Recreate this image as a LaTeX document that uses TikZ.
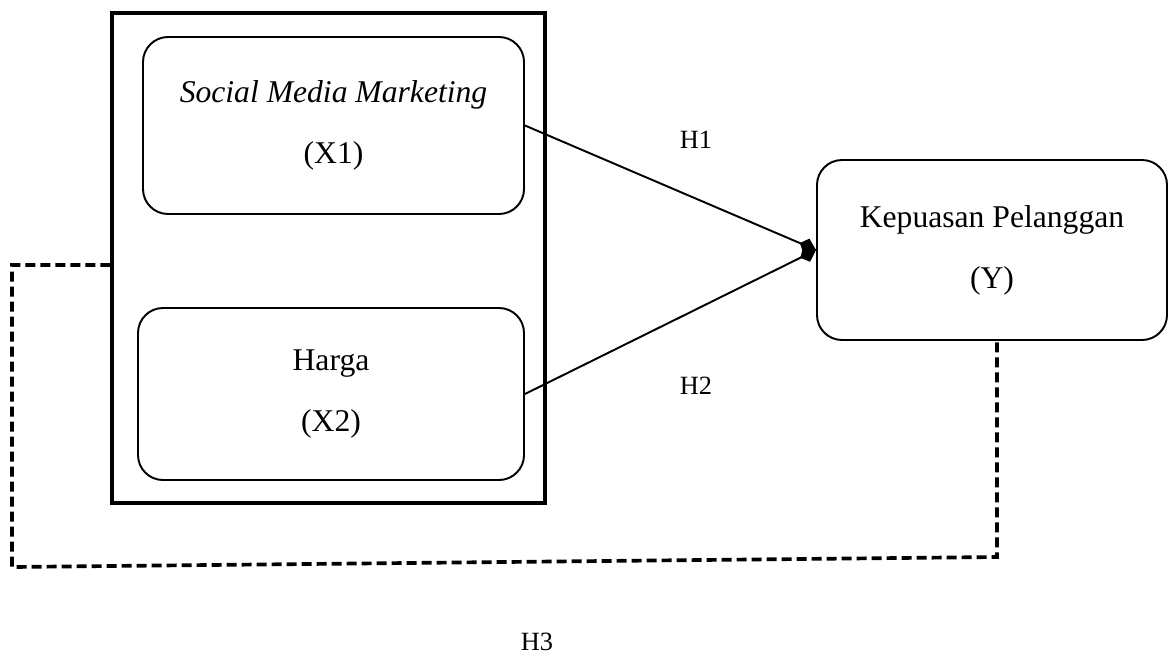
\documentclass[tikz,border=0pt]{standalone}
\usepackage{fontspec}
\setmainfont{Liberation Serif}
\usetikzlibrary{arrows.meta}

\begin{document}
\begin{tikzpicture}[
    varbox/.style={draw, line width=1.1pt, rounded corners=0.5cm, align=center,
      font=\fontsize{18}{21.6}\selectfont},
    framebox/.style={draw, line width=1.9pt, inner sep=0pt},
    path/.style={line width=1.1pt, -{Kite[length=10pt,width=9pt,inset=4pt]}},
    dashline/.style={line width=2.1pt, dash pattern=on 0.2cm off 0.1cm},
    hlabel/.style={font=\fontsize{15}{18}\selectfont}
  ]
  \useasboundingbox (0,0) rectangle (23.42,13.12);
  % outer frame round the two independent variables
  \node[framebox, minimum width=8.66cm, minimum height=9.8cm] (frame) at (6.57,7.96) {};
  \node[varbox, minimum width=7.62cm, minimum height=3.54cm] (x1) at (6.67,10.61)
    {\textit{Social Media Marketing}\\[13pt](X1)};
  \node[varbox, minimum width=7.72cm, minimum height=3.44cm] (x2) at (6.62,5.24)
    {Harga\\[13pt](X2)};
  \node[varbox, minimum width=7.0cm, minimum height=3.6cm] (y) at (19.84,8.12)
    {Kepuasan Pelanggan\\[13pt](Y)};
  \draw[path] (x1.east) -- (y.west);
  \draw[path] (x2.east) -- (y.west);
  % simultaneous effect
  \coordinate (h3s) at ([yshift=-0.14cm]frame.west);
  \coordinate (h3l) at (0.24,1.78);
  \coordinate (h3r) at (19.94,1.98);
  \draw[dashline] (h3s) -- (h3s -| h3l) -- (h3l) -- (h3r) -- (h3r |- y.south);
  \node[hlabel] (h1) at (13.92,10.32) {H1};
  \node[hlabel] (h2) at (13.92,5.4) {H2};
  \node[hlabel] (h3) at (10.74,0.28) {H3};
\end{tikzpicture}
\end{document}
